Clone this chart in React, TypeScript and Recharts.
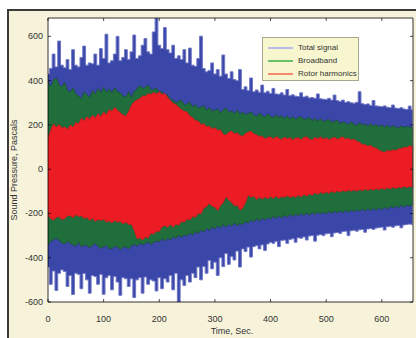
import React from "react";
import {
  ComposedChart,
  Area,
  XAxis,
  YAxis,
  CartesianGrid,
  ReferenceArea,
} from "recharts";

// sample times, sec.
const times = [
  0, 5, 10, 15, 20, 25, 30, 35, 40, 45,
  50, 55, 60, 65, 70, 75, 80, 85, 90, 95,
  100, 105, 110, 115, 120, 125, 130, 135, 140, 145,
  150, 155, 160, 165, 170, 175, 180, 185, 190, 195,
  200, 205, 210, 215, 220, 225, 230, 235, 240, 245,
  250, 255, 260, 265, 270, 275, 280, 285, 290, 295,
  300, 305, 310, 315, 320, 325, 330, 335, 340, 345,
  350, 355, 360, 365, 370, 375, 380, 385, 390, 395,
  400, 405, 410, 415, 420, 425, 430, 435, 440, 445,
  450, 455, 460, 465, 470, 475, 480, 485, 490, 495,
  500, 505, 510, 515, 520, 525, 530, 535, 540, 545,
  550, 555, 560, 565, 570, 575, 580, 585, 590, 595,
  600, 605, 610, 615, 620, 625, 630, 635, 640, 645,
  650, 655,
];

// total signal envelope (Pa)
const totalHi = [
  430, 455, 520, 462, 579, 470, 458, 495, 450, 540,
  470, 462, 505, 556, 470, 480, 476, 520, 470, 545,
  500, 610, 480, 490, 520, 600, 490, 505, 540, 495,
  530, 606, 500, 512, 560, 590, 530, 520, 620, 683,
  560, 545, 640, 540, 525, 560, 500, 512, 495, 540,
  480, 547, 470, 465, 500, 601, 455, 440, 446, 480,
  430, 450, 420, 516, 430, 410, 440, 405, 400, 450,
  360, 372, 355, 412, 350, 358, 348, 380, 345, 352,
  342, 365, 340, 338, 345, 335, 360, 332, 336, 330,
  328, 345, 326, 330, 322, 324, 320, 340, 318, 316,
  315, 320, 312, 335, 310, 306, 312, 302, 305, 300,
  298, 302, 350, 296, 292, 295, 288, 310, 286, 284,
  282, 286, 280, 278, 290, 276, 274, 278, 272, 270,
  285, 268,
];
const totalLo = [
  -442, -520, -460, -548, -470, -455, -462, -530, -480, -566,
  -470, -475, -540, -471, -500, -560, -480, -485, -520, -475,
  -565, -490, -480, -545, -485, -510, -570, -490, -495, -530,
  -495, -580, -500, -490, -560, -487, -520, -500, -505, -550,
  -490, -540, -495, -510, -480, -545, -470, -600, -500, -525,
  -480, -510, -470, -490, -442, -500, -440, -470, -412, -450,
  -420, -480, -400, -440, -381, -430, -395, -410, -370, -442,
  -360, -372, -352, -397, -350, -345, -360, -342, -367, -338,
  -330, -335, -326, -350, -322, -320, -335, -318, -314, -330,
  -310, -312, -306, -320, -302, -300, -325, -298, -295, -300,
  -292, -290, -305, -288, -286, -290, -282, -280, -300, -278,
  -276, -280, -274, -272, -285, -270, -268, -272, -266, -264,
  -262, -275, -260, -258, -262, -256, -254, -265, -252, -250,
  -248, -250,
];

// broadband envelope
const broadHi = [
  395, 372, 405, 412, 380, 372, 392, 356, 348, 368,
  340, 332, 318, 350, 336, 325, 355, 340, 365, 345,
  370, 348, 362, 345, 368, 350, 345, 330, 326, 350,
  325, 352, 362, 378, 366, 370, 380, 358, 360, 366,
  345, 352, 326, 338, 315, 312, 300, 306, 312, 290,
  295, 302, 280, 292, 276, 280, 288, 266, 278, 262,
  266, 272, 254, 268, 276, 256, 264, 250, 268, 246,
  260, 246, 252, 258, 244, 238, 254, 242, 236, 250,
  238, 232, 246, 234, 242, 228, 240, 226, 238, 224,
  234, 238, 224, 228, 234, 218, 230, 216, 228, 214,
  220, 224, 212, 216, 222, 204, 214, 208, 202, 214,
  202, 198, 210, 200, 204, 194, 206, 194, 202, 192,
  200, 190, 198, 188, 196, 190, 186, 196, 188, 194,
  190, 188,
];
const broadLo = [
  -344, -326, -318, -312, -322, -334, -338, -326, -336, -342,
  -348, -330, -352, -342, -344, -356, -344, -336, -348, -358,
  -350, -344, -360, -358, -348, -352, -364, -352, -350, -360,
  -346, -338, -348, -334, -342, -336, -328, -340, -330, -324,
  -328, -314, -324, -310, -320, -304, -314, -298, -308, -296,
  -302, -288, -298, -282, -290, -274, -284, -266, -276, -260,
  -270, -256, -266, -250, -262, -246, -258, -242, -255, -246,
  -250, -236, -244, -230, -238, -224, -234, -220, -230, -218,
  -225, -214, -222, -210, -220, -208, -216, -204, -214, -203,
  -210, -200, -209, -198, -207, -196, -205, -194, -203, -193,
  -202, -191, -199, -189, -198, -188, -197, -186, -195, -184,
  -192, -182, -190, -180, -189, -178, -187, -176, -185, -174,
  -182, -172, -180, -168, -177, -166, -174, -163, -172, -161,
  -168, -160,
];

// rotor harmonics envelope
const rotorHi = [
  140, 178, 205, 190, 202, 186, 192, 180, 200, 190,
  212, 205, 231, 218, 238, 226, 244, 232, 250, 238,
  258, 248, 270, 262, 280, 266, 255, 246, 240, 262,
  290, 305, 314, 318, 332, 330, 342, 338, 348, 340,
  350, 338, 342, 325, 310, 298, 292, 280, 270, 262,
  258, 240, 234, 220, 218, 202, 206, 192, 195, 182,
  188, 176, 178, 158, 155, 168, 172, 160, 165, 152,
  149, 162, 168, 172, 160, 155, 148, 150, 138, 144,
  146, 136, 148, 140, 134, 145, 138, 143, 132, 141,
  142, 134, 144, 146, 136, 132, 144, 138, 146, 136,
  142, 133, 140, 145, 135, 142, 146, 136, 140, 132,
  136, 126, 122, 112, 112, 104, 108, 98, 96, 86,
  80, 76, 84, 82, 88, 84, 92, 94, 100, 98,
  106, 102,
];
const rotorLo = [
  -208, -224, -231, -218, -215, -228, -224, -212, -210, -220,
  -206, -214, -210, -224, -218, -232, -222, -236, -228, -232,
  -226, -240, -234, -244, -232, -240, -236, -248, -240, -250,
  -250, -278, -315, -310, -321, -306, -312, -290, -294, -280,
  -282, -260, -256, -262, -250, -264, -248, -254, -236, -240,
  -226, -230, -214, -218, -200, -202, -176, -170, -155, -168,
  -172, -188, -164, -152, -125, -140, -150, -166, -162, -186,
  -176, -152, -118, -128, -122, -138, -126, -136, -126, -134,
  -124, -132, -122, -132, -124, -128, -120, -128, -122, -128,
  -118, -126, -114, -122, -112, -118, -106, -114, -104, -112,
  -102, -110, -100, -106, -98, -104, -96, -102, -95, -100,
  -94, -100, -92, -98, -90, -96, -90, -95, -88, -94,
  -86, -92, -84, -90, -82, -88, -80, -86, -78, -84,
  -78, -82,
];

const xTicks = [0, 100, 200, 300, 400, 500, 600];
const yTicks = [-600, -400, -200, 0, 200, 400, 600];

const legendItems = [
  { label: "Total signal", color: "#b9bbe8" },
  { label: "Broadband", color: "#6cc06c" },
  { label: "Rotor harmonics", color: "#f48a70" },
];

const rows = times.map((t, i) => ({
  t,
  total: [totalLo[i], totalHi[i]],
  broad: [broadLo[i], broadHi[i]],
  rotor: [rotorLo[i], rotorHi[i]],
}));

const FONT = "'Liberation Sans', Arial, sans-serif";
const PLOT_TOP = 18;
const PLOT_BOTTOM = 302;
const PLOT_LEFT = 48;
const PLOT_RIGHT = 413;

const XTick = (props: any) => {
  const { x, payload } = props;
  return (
    <g>
      <line x1={x} x2={x} y1={PLOT_BOTTOM} y2={PLOT_BOTTOM - 3} stroke="#000" strokeWidth={0.7} />
      <line x1={x} x2={x} y1={PLOT_TOP} y2={PLOT_TOP + 3} stroke="#000" strokeWidth={0.7} />
      <text x={x} y={PLOT_BOTTOM + 20} textAnchor="middle" fontSize={9} fill="#333" fontFamily={FONT}>
        {payload.value}
      </text>
    </g>
  );
};

const YTick = (props: any) => {
  const { y, payload } = props;
  return (
    <g>
      <line x1={PLOT_LEFT} x2={PLOT_LEFT + 3} y1={y} y2={y} stroke="#000" strokeWidth={0.7} />
      <line x1={PLOT_RIGHT} x2={PLOT_RIGHT - 3} y1={y} y2={y} stroke="#000" strokeWidth={0.7} />
      <text x={PLOT_LEFT - 5} y={y + 3} textAnchor="end" fontSize={9} fill="#333" fontFamily={FONT}>
        {payload.value}
      </text>
    </g>
  );
};

const LegendBox = () => (
  <div
    style={{
      position: "absolute",
      left: 262,
      top: 37,
      width: 97,
      height: 44,
      boxSizing: "border-box",
      background: "#f8f6cf",
      border: "1px solid #a8a68c",
      padding: "3px 0 0 5px",
      fontFamily: FONT,
      fontSize: 8,
      color: "#333",
      lineHeight: "13px",
    }}
  >
    {legendItems.map((it) => (
      <div key={it.label} style={{ display: "flex", alignItems: "center", whiteSpace: "nowrap" }}>
        <span style={{ display: "inline-block", width: 25, height: 2, background: it.color, marginRight: 5 }} />
        <span>{it.label}</span>
      </div>
    ))}
  </div>
);

export default function App() {
  return (
    <div style={{ position: "relative", width: 416, height: 338, background: "#fff", overflow: "hidden" }}>
      <style>{"body{margin:0}"}</style>
      <div
        style={{
          position: "absolute",
          left: 7,
          top: 9,
          right: -4,
          bottom: -4,
          background: "#f7f3da",
          borderTop: "2px solid #3a3a3a",
          borderLeft: "2px solid #3a3a3a",
        }}
      />
      <div style={{ position: "absolute", left: 0, top: 0 }}>
        <ComposedChart width={416} height={338} data={rows} margin={{ top: PLOT_TOP, right: 416 - PLOT_RIGHT, bottom: 0, left: 0 }}>
          <CartesianGrid fill="#fff" horizontal={false} vertical={false} />
          <XAxis
            dataKey="t"
            type="number"
            domain={[0, 656]}
            ticks={xTicks}
            allowDataOverflow
            height={338 - PLOT_BOTTOM}
            tickLine={false}
            tickSize={0}
            tickMargin={0}
            tick={<XTick />}
            axisLine={false}
            label={{
              content: () => (
                <text x={232} y={334} textAnchor="middle" fontSize={9} fill="#333" fontFamily={FONT}>
                  Time, Sec.
                </text>
              ),
            }}
          />
          <YAxis
            type="number"
            domain={[-600, 683]}
            ticks={yTicks}
            allowDataOverflow
            width={PLOT_LEFT}
            tickLine={false}
            tickSize={0}
            tickMargin={0}
            tick={<YTick />}
            axisLine={false}
            label={{
              content: () => (
                <text x={17} y={170} transform="rotate(-90 17 170)" textAnchor="middle" fontSize={9} fill="#333" fontFamily={FONT}>
                  Sound Pressure, Pascals
                </text>
              ),
            }}
          />
          <Area dataKey="total" name="Total signal" type="step" stroke="#7078c6" strokeWidth={1} fill="#3a46a8" fillOpacity={1} isAnimationActive={false} />
          <Area dataKey="broad" name="Broadband" type="linear" stroke="#1a4a2a" strokeWidth={0.6} fill="#1f6e3c" fillOpacity={1} isAnimationActive={false} />
          <Area dataKey="rotor" name="Rotor harmonics" type="linear" stroke="#b81a20" strokeWidth={0.6} fill="#ec1c24" fillOpacity={1} isAnimationActive={false} />
          <ReferenceArea x1={0} x2={656} y1={-600} y2={683} fill="none" stroke="#000" strokeWidth={0.8} />
        </ComposedChart>
      </div>
      <LegendBox />
    </div>
  );
}
